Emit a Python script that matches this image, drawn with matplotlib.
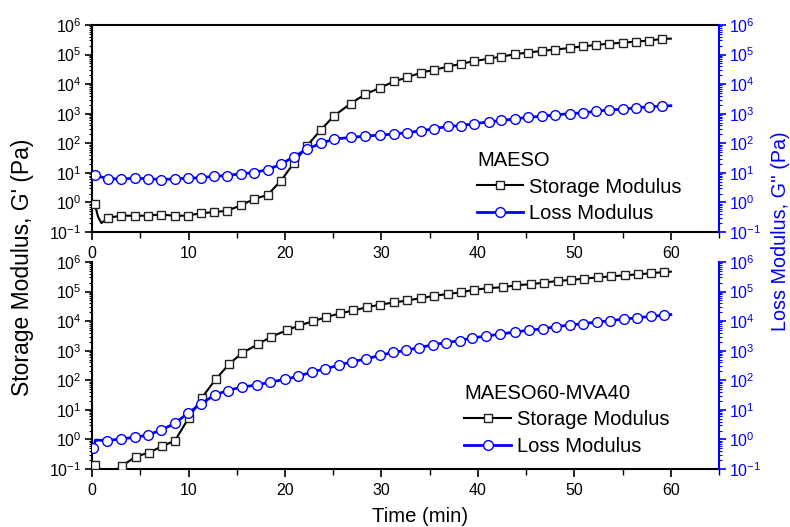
import matplotlib
matplotlib.use('Agg')
import matplotlib.pyplot as plt
from matplotlib.lines import Line2D
from matplotlib.ticker import LogLocator, MultipleLocator, NullFormatter
import numpy as np

plt.rcParams['font.family'] = ['Liberation Sans', 'DejaVu Sans']
plt.rcParams['mathtext.default'] = 'regular'

# ---- data (time in min, moduli in Pa) ----
# MAESO
t_top = [0.28, 1.66, 3.04, 4.42, 5.8, 7.2, 8.6, 9.9, 11.3, 12.6, 14.0, 15.4, 16.8, 18.2,
         19.6, 20.9, 22.3, 23.7, 25.1, 26.8, 28.3, 29.8, 31.3, 32.7, 34.1, 35.4, 36.9, 38.3,
         39.6, 41.1, 42.4, 43.8, 45.2, 46.6, 48.0, 49.5, 50.9, 52.2, 53.6, 55.0, 56.4, 57.7, 59.1]
g1_top = [0.9, 0.30, 0.36, 0.35, 0.36, 0.39, 0.35, 0.36, 0.43, 0.47, 0.52, 0.79, 1.3, 1.8,
          5.5, 21, 83, 280, 850, 2200, 4500, 7400, 12300, 17000, 24500, 30000, 39000, 49000,
          60000, 72000, 85000, 1.02e5, 1.17e5, 1.32e5, 1.48e5, 1.66e5, 1.9e5, 2.1e5, 2.35e5,
          2.5e5, 2.75e5, 2.95e5, 3.4e5]
g2_top = [8.3, 6.3, 6.2, 6.6, 6.3, 5.9, 6.3, 6.5, 6.9, 7.6, 8.1, 9.3, 10.2, 12.9,
          19.5, 35, 63, 100, 138, 158, 174, 190, 204, 229, 263, 309, 372, 398,
          457, 525, 589, 661, 759, 813, 912, 1000, 1070, 1200, 1350, 1410, 1580, 1700, 1820]
# unmarked raw points (initial dip and last reading)
t_top_dip = [0.62, 0.97]
g1_top_dip = [0.33, 0.2]
t_end = 60.0
g1_top_end, g2_top_end = 3.45e5, 1860

# MAESO60-MVA40
t_bot_g1 = [0.28, 1.66, 3.14, 4.53, 5.9, 7.25, 8.6, 10.0, 11.4, 12.8, 14.2, 15.5, 17.2, 18.6,
            20.2, 21.5, 22.9, 24.3, 25.7, 27.1, 28.5, 29.9, 31.3, 32.7, 34.1, 35.4, 36.9, 38.2,
            39.6, 41.0, 42.6, 43.9, 45.5, 46.9, 48.3, 49.7, 51.0, 52.4, 53.8, 55.2, 56.6, 57.9, 59.3]
g1_bot = [0.14, 0.06, 0.13, 0.26, 0.36, 0.58, 0.91, 5.2, 26, 107, 350, 810, 1660, 3000,
          4900, 7200, 9800, 13800, 18200, 22900, 29500, 36300, 42700, 50000, 60000, 71000,
          83000, 93000, 1.15e5, 1.29e5, 1.41e5, 1.62e5, 1.78e5, 2.0e5, 2.3e5, 2.45e5, 2.75e5,
          3.0e5, 3.25e5, 3.55e5, 3.8e5, 4.15e5, 4.55e5]
t_bot_g2 = [0.14, 1.6, 3.0, 4.45, 5.8, 7.2, 8.6, 9.9, 11.3, 12.7, 14.1, 15.5, 17.1, 18.5,
            20.0, 21.4, 22.8, 24.2, 25.6, 27.0, 28.4, 29.8, 31.2, 32.5, 33.9, 35.3, 36.7, 38.1,
            39.4, 40.8, 42.3, 43.8, 45.3, 46.7, 48.1, 49.5, 50.9, 52.3, 53.7, 55.1, 56.5, 57.9, 59.3]
g2_bot = [0.5, 0.91, 1.05, 1.17, 1.41, 2.1, 3.5, 7.6, 15.8, 32, 45, 59, 69, 87,
          107, 138, 190, 245, 324, 427, 525, 690, 870, 1020, 1260, 1580, 1860, 2190,
          2690, 3090, 3630, 4270, 4900, 5500, 6460, 7400, 8130, 9330, 10200, 11700, 12900,
          14500, 15800]
g2_bot_jump = (0.35, 0.95)
g1_bot_end, g2_bot_end = 4.7e5, 16600

BLUE = '#0000ff'


def style_axis(ax, color='black'):
    ax.set_yscale('log')
    ax.set_ylim(0.1, 1e6)
    ax.yaxis.set_major_locator(LogLocator(base=10, numticks=10))
    ax.yaxis.set_minor_locator(LogLocator(base=10, subs=np.arange(2, 10), numticks=10))
    ax.yaxis.set_minor_formatter(NullFormatter())
    ax.tick_params(axis='y', which='major', direction='out', length=5, width=1.2,
                   labelsize=11.5, colors=color, pad=2.5)
    ax.tick_params(axis='y', which='minor', direction='out', length=2.5, width=0.8, colors=color)


def draw_panel(ax, t1, g1, t2, g2, title):
    ax.set_xlim(0, 65)
    ax.plot(t1, g1, '-', color='black', lw=1.5, marker='s', ms=6, mfc='white',
            mec='#222222', mew=1.0, markevery=MK1[title], zorder=3)
    style_axis(ax)
    ax.xaxis.set_minor_locator(MultipleLocator(5))
    ax.set_xticks(range(0, 61, 10))
    ax.tick_params(axis='x', which='major', direction='out', length=6, width=1.2,
                   labelsize=11.5, pad=4)
    ax.tick_params(axis='x', which='minor', direction='out', length=4, width=1.0)
    for s in ax.spines.values():
        s.set_linewidth(1.5)
    ax.spines['right'].set_visible(False)
    ax2 = ax.twinx()
    ax2.plot(t2, g2, '-', color=BLUE, lw=2, marker='o', ms=7, mfc='white', mec=BLUE,
             mew=1.0, markevery=MK2[title], zorder=3)
    style_axis(ax2, color=BLUE)
    ax2.spines['right'].set_color(BLUE)
    ax2.spines['right'].set_linewidth(1.5)
    for side in ('left', 'top', 'bottom'):
        ax2.spines[side].set_visible(False)
    return ax2


# line arrays with unmarked raw points spliced in
t1a = [t_top[0]] + t_top_dip + t_top[1:] + [t_end]
g1a = [g1_top[0]] + g1_top_dip + g1_top[1:] + [g1_top_end]
t2a = t_top + [t_end]
g2a = g2_top + [g2_top_end]
t1b = t_bot_g1 + [t_end]
g1b = g1_bot + [g1_bot_end]
t2b = [t_bot_g2[0], g2_bot_jump[0]] + t_bot_g2[1:] + [t_end]
g2b = [g2_bot[0], g2_bot_jump[1]] + g2_bot[1:] + [g2_bot_end]

MK1 = {'MAESO': [0] + list(range(3, len(t1a) - 1)),
       'MAESO60-MVA40': list(range(len(t1b) - 1))}
MK2 = {'MAESO': list(range(len(t2a) - 1)),
       'MAESO60-MVA40': [0] + list(range(2, len(t2b) - 1))}

fig = plt.figure(figsize=(7.9, 5.27), dpi=100)
ax_top = fig.add_axes([0.1165, 0.5598, 0.7937, 0.3928])
ax_bot = fig.add_axes([0.1165, 0.1101, 0.7937, 0.3928])

draw_panel(ax_top, t1a, g1a, t2a, g2a, 'MAESO')
draw_panel(ax_bot, t1b, g1b, t2b, g2b, 'MAESO60-MVA40')
ax_bot.spines['top'].set_visible(False)

handles = [Line2D([], [], color='black', lw=1.5, marker='s', ms=6, mfc='white', mec='#222222'),
           Line2D([], [], color=BLUE, lw=2, marker='o', ms=7, mfc='white', mec=BLUE)]
labels = ['Storage Modulus', 'Loss Modulus']
for ax, title, anchor in [(ax_top, 'MAESO', (0.614, 0.39)),
                          (ax_bot, 'MAESO60-MVA40', (0.594, 0.41))]:
    leg = ax.legend(handles, labels, title=title, loc='upper left', bbox_to_anchor=anchor,
                    frameon=False, fontsize=14.5, title_fontsize=14.5, alignment='left',
                    handlelength=2.3, handletextpad=0.3, borderpad=0, borderaxespad=0,
                    labelspacing=0.36, numpoints=1)
    leg.set_zorder(5)

fig.text(0.028, 0.493, "Storage Modulus, G' (Pa)", rotation=90, ha='center', va='center',
         fontsize=16.5)
fig.text(0.988, 0.561, "Loss Modulus, G'' (Pa)", rotation=90, ha='center', va='center',
         fontsize=14.2, color=BLUE)
fig.text(0.532, 0.019, 'Time (min)', ha='center', va='center', fontsize=14.6)

fig.savefig('out.png', dpi=100)
